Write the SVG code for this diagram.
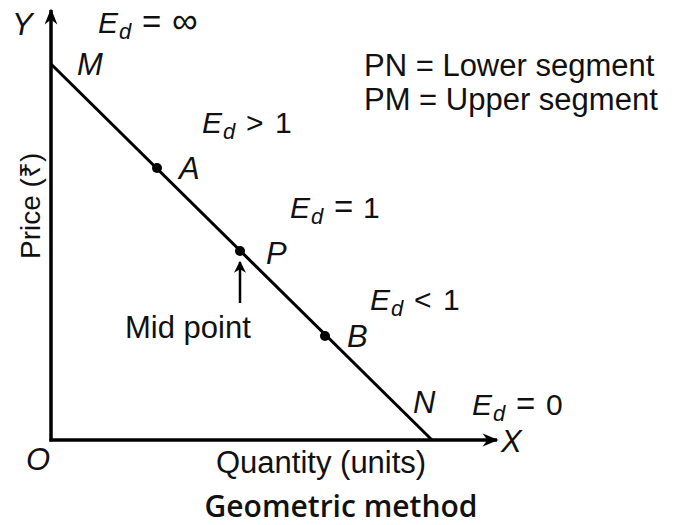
<svg xmlns="http://www.w3.org/2000/svg" width="673" height="525" viewBox="0 0 673 525">
<defs>
<marker id="ah" viewBox="0 0 10 10" refX="9" refY="5" markerWidth="12" markerHeight="12" markerUnits="userSpaceOnUse" orient="auto">
<path d="M0,0 L10,5 L0,10 L3,5 Z" fill="#000"/>
</marker>
<marker id="ahb" viewBox="0 0 10 10" refX="9" refY="5" markerWidth="18" markerHeight="16" markerUnits="userSpaceOnUse" orient="auto">
<path d="M0,1 L10,5 L0,9 L3,5 Z" fill="#000"/>
</marker>
<style>
text{font-family:"Liberation Sans",Arial,sans-serif;fill:#111;font-size:31px}
.i{font-style:italic}
.e{font-size:30px}
.sub{font-size:22px;font-style:italic}
.ax{stroke:#000;stroke-width:3.5;fill:none}
.ln{stroke:#000;stroke-width:3;fill:none}
</style>
</defs>
<rect width="673" height="525" fill="#fff"/>
<g id="axes">
<line class="ax" x1="51" y1="441.5" x2="51" y2="10" marker-end="url(#ahb)"/>
<line class="ax" x1="49.5" y1="440" x2="497" y2="440" marker-end="url(#ahb)"/>
</g>
<g id="connectors">
<line class="ln" x1="51" y1="64" x2="432" y2="440"/>
<line stroke="#000" stroke-width="2.5" x1="240" y1="303" x2="240" y2="262" marker-end="url(#ah)"/>
</g>
<g id="point-A"><circle cx="157" cy="168" r="5" fill="#000"/><text class="i" x="179" y="179">A</text></g>
<g id="point-P"><circle cx="240" cy="251" r="5" fill="#000"/><text class="i" x="266" y="264">P</text></g>
<g id="point-B"><circle cx="325" cy="336" r="5" fill="#000"/><text class="i" x="347" y="347">B</text></g>
<g id="point-M"><text class="i" x="77" y="75">M</text></g>
<g id="point-N"><text class="i" x="413" y="413">N</text></g>
<g id="labels">
<text class="i" x="12" y="35">Y</text>
<text class="i" x="501" y="452">X</text>
<text class="i" x="26" y="470">O</text>
<text class="e" y="33"><tspan class="i" x="98">E</tspan><tspan class="sub" x="119" dy="6">d</tspan><tspan x="142" dy="-6" style="font-size:33px">=</tspan><tspan x="172" style="font-size:36px">∞</tspan></text>
<text class="e" y="133"><tspan class="i" x="202">E</tspan><tspan class="sub" x="223" dy="6">d</tspan><tspan x="246" dy="-6">&gt;</tspan><tspan x="275">1</tspan></text>
<text class="e" y="218"><tspan class="i" x="290">E</tspan><tspan class="sub" x="311" dy="6">d</tspan><tspan x="334" dy="-6" style="font-size:33px">=</tspan><tspan x="363">1</tspan></text>
<text class="e" y="310"><tspan class="i" x="370">E</tspan><tspan class="sub" x="391" dy="6">d</tspan><tspan x="414" dy="-6">&lt;</tspan><tspan x="443">1</tspan></text>
<text class="e" y="415"><tspan class="i" x="472">E</tspan><tspan class="sub" x="493" dy="6">d</tspan><tspan x="516" dy="-6" style="font-size:33px">=</tspan><tspan x="546">0</tspan></text>
<text x="364" y="76">PN = Lower segment</text>
<text x="364" y="110">PM = Upper segment</text>
<text x="125" y="338">Mid point</text>
<text x="216" y="473">Quantity (units)</text>
<text x="40" y="259" transform="rotate(-90 40 259)" style="font-size:28px">Price (₹)</text>
<text x="341" y="517" text-anchor="middle" style="font-family:'Open Sans','Liberation Sans',sans-serif;font-size:30px;font-weight:600">Geometric method</text>
</g>
</svg>
